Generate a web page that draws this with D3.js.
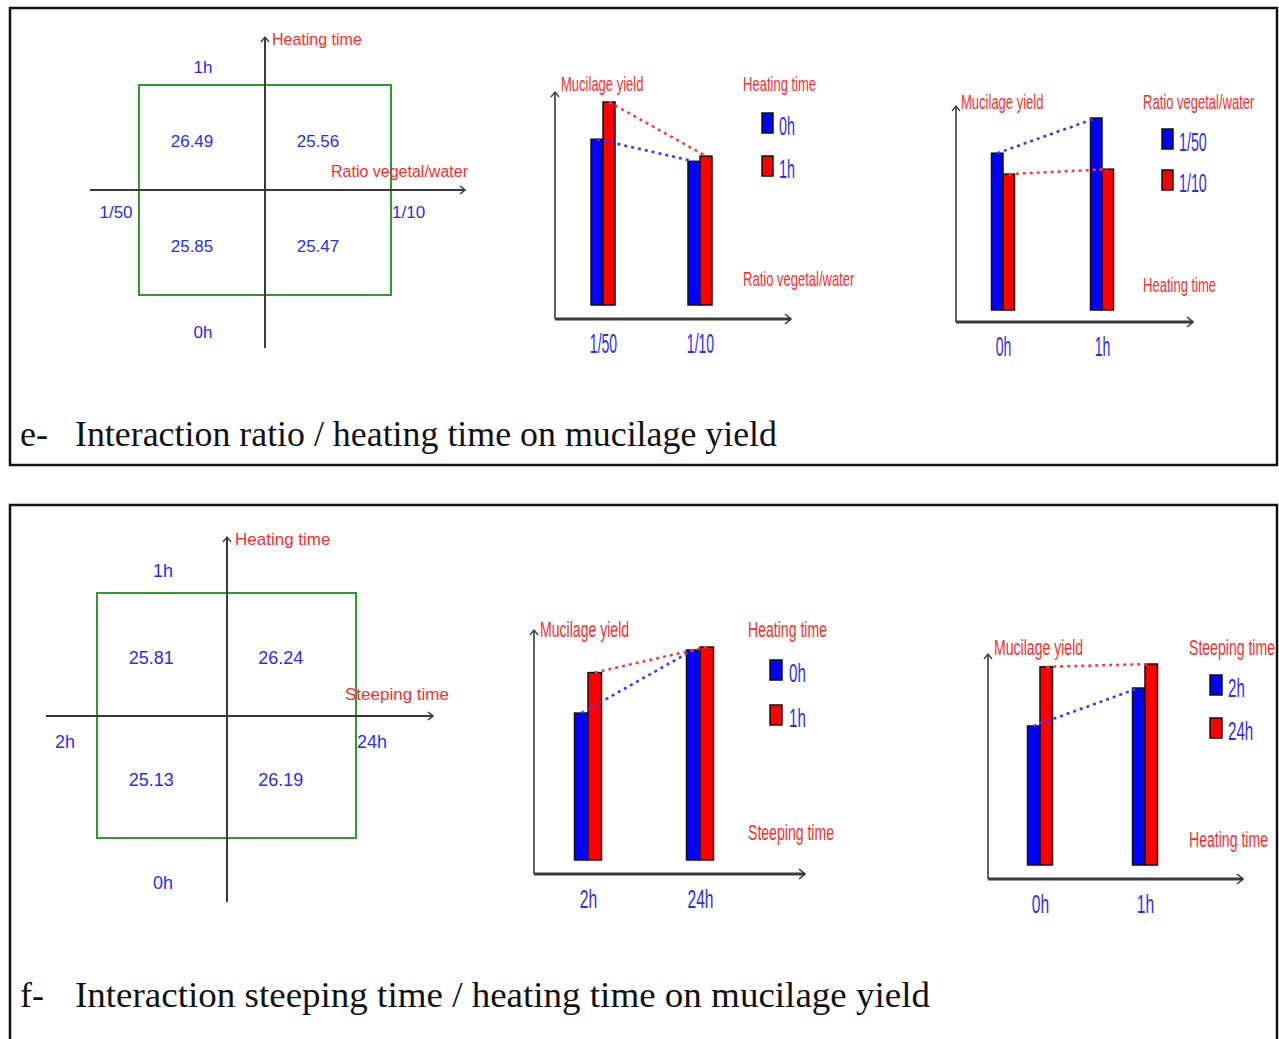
<!DOCTYPE html>
<html>
<head>
<meta charset="utf-8">
<script src="https://cdn.jsdelivr.net/npm/d3@7"></script>
<style>
  body { margin: 0; background: #fff; }
</style>
</head>
<body>
<svg id="fig" width="1279" height="1039"></svg>
<script>
// ---- factor levels ----
const ratioLevels = ["1/50", "1/10"];
const heatingLevels = ["0h", "1h"];
const steepingLevels = ["2h", "24h"];

// ---- mean mucilage yield (%) ----
// panel e: one array per heating time, values across ratio levels
const yieldE_heat0h = [25.85, 25.47];
const yieldE_heat1h = [26.49, 25.56];
// panel f: one array per heating time, values across steeping levels
const yieldF_heat0h = [25.13, 26.19];
const yieldF_heat1h = [25.81, 26.24];

// ---- captions ----
const captionE = ["e-", "Interaction ratio / heating time on mucilage yield"];
const captionF = ["f-", "Interaction steeping time / heating time on mucilage yield"];

const BAR_BLUE = "#0000ff", BAR_RED = "#ff0000";
const TXT_BLUE = "#2c2cf0", TXT_RED = "#ff2a2a";
const AXIS = "#3a3a3a", GREEN = "#2f9a2f";
const SANS = "'Liberation Sans', Arial, sans-serif";
const SERIF = "'Liberation Serif', 'Times New Roman', serif";

const svg = d3.select("#fig");

// text drawn at (x, y), optionally narrowed horizontally by factor k
function label(g, x, y, str, o) {
  const t = g.append("text").text(str)
    .attr("font-family", o.family || SANS)
    .attr("font-size", o.size)
    .attr("fill", o.color)
    .attr("text-anchor", o.anchor || "start");
  if (o.k) t.attr("transform", `translate(${x},${y}) scale(${o.k},1)`);
  else t.attr("x", x).attr("y", y);
  return t;
}

function upArrow(g, x, y, s) {
  g.append("path").attr("d", `M${x - s},${y + s + 1}L${x},${y}L${x + s},${y + s + 1}`)
    .attr("fill", "none").attr("stroke", AXIS).attr("stroke-width", 1.3);
}
function rightArrow(g, x, y, s) {
  g.append("path").attr("d", `M${x - s - 1},${y - s}L${x},${y}L${x - s - 1},${y + s}`)
    .attr("fill", "none").attr("stroke", AXIS).attr("stroke-width", 1.6);
}

// ---- panel frames ----
svg.append("rect").attr("x", 10).attr("y", 8).attr("width", 1267).attr("height", 457)
  .attr("fill", "none").attr("stroke", "#111").attr("stroke-width", 2.5);
svg.append("rect").attr("x", 10).attr("y", 505).attr("width", 1267).attr("height", 560)
  .attr("fill", "none").attr("stroke", "#111").attr("stroke-width", 2.5);

// ---- quadrant diagram: cell means on a 2x2 design ----
function quadrant(o) {
  const g = svg.append("g");
  const x = d3.scaleBand().domain(o.xLevels).range([o.sq[0], o.sq[1]]);
  const y = d3.scaleBand().domain(o.yLevels.slice().reverse()).range([o.sq[2], o.sq[3]]);

  g.append("rect")
    .attr("x", o.sq[0]).attr("y", o.sq[2])
    .attr("width", o.sq[1] - o.sq[0]).attr("height", o.sq[3] - o.sq[2])
    .attr("fill", "none").attr("stroke", GREEN).attr("stroke-width", 2);

  g.append("line").attr("x1", o.vx).attr("x2", o.vx).attr("y1", o.vBot).attr("y2", o.vTop)
    .attr("stroke", AXIS).attr("stroke-width", 2);
  upArrow(g, o.vx, o.vTop, 4);
  g.append("line").attr("x1", o.hLeft).attr("x2", o.hRight).attr("y1", o.hy).attr("y2", o.hy)
    .attr("stroke", AXIS).attr("stroke-width", 2);
  rightArrow(g, o.hRight, o.hy, 4);

  label(g, o.yTitleX, o.yTitleY, o.yTitle, { size: o.fsRed, color: TXT_RED });
  label(g, o.xTitleX, o.xTitleY, o.xTitle, { size: o.fsRed, color: TXT_RED });

  o.xLevels.forEach((lv, i) =>
    label(g, o.xLvl[i][0], o.xLvlY, lv, { size: o.fsBlue, color: TXT_BLUE, anchor: o.xLvl[i][1] }));
  o.yLevels.forEach((lv, i) =>
    label(g, o.yLvlX, o.yLvlY[i], lv, { size: o.fsBlue, color: TXT_BLUE, anchor: "middle" }));

  o.rows.forEach((row, ri) => row.forEach((v, ci) => {
    label(g,
      x(o.xLevels[ci]) + x.bandwidth() / 2 + o.cellDx,
      y(o.yLevels[ri]) + y.bandwidth() / 2 + o.cellDy,
      v.toFixed(2), { size: o.fsBlue, color: TXT_BLUE, anchor: "middle" });
  }));
}

// ---- grouped interaction bar chart ----
function barPanel(o) {
  const g = svg.append("g");
  const x = d3.scalePoint().domain(o.groups).range(o.groupX);
  const peak = d3.max(o.series.flat());
  const y = d3.scaleLinear().domain([o.floor, peak]).range([o.base, o.top]);
  const colors = [BAR_BLUE, BAR_RED];
  const dotColors = ["#3a3aff", "#ff3c3c"];
  const bw = o.barW;
  const bx = (gi, si) => x(o.groups[gi]) + (si - 1) * bw;

  // category labels from a bottom axis
  const ax = g.append("g").attr("transform", `translate(0,${o.oy})`)
    .call(d3.axisBottom(x).tickSize(0));
  ax.select(".domain").remove();
  ax.selectAll("text")
    .attr("x", 0).attr("y", 0).attr("dy", 0)
    .attr("transform", `translate(0,${o.tickY - o.oy}) scale(${o.fs.kTick},1)`)
    .attr("font-family", SANS).attr("font-size", o.fs.tick).attr("fill", TXT_BLUE);

  // axes lines with open arrowheads
  g.append("line").attr("x1", o.ox).attr("x2", o.ox).attr("y1", o.oy).attr("y2", o.yTip)
    .attr("stroke", AXIS).attr("stroke-width", 1.6);
  upArrow(g, o.ox, o.yTip, 4);
  g.append("line").attr("x1", o.ox).attr("x2", o.xTip).attr("y1", o.oy).attr("y2", o.oy)
    .attr("stroke", AXIS).attr("stroke-width", 3);
  rightArrow(g, o.xTip, o.oy, 5);

  // bars
  o.series.forEach((vals, si) => {
    g.selectAll(null).data(vals).join("rect")
      .attr("x", (d, gi) => bx(gi, si))
      .attr("y", d => y(d))
      .attr("width", bw)
      .attr("height", d => y(o.floor) - y(d))
      .attr("fill", colors[si])
      .attr("stroke", "#111").attr("stroke-width", 1.5);
  });

  // dotted interaction lines joining the same level across groups
  o.series.forEach((vals, si) => {
    const line = d3.line().x((d, gi) => bx(gi, si) + bw / 2).y(d => y(d));
    g.append("path").attr("d", line(vals))
      .attr("fill", "none").attr("stroke", dotColors[si])
      .attr("stroke-width", 2.6).attr("stroke-dasharray", "3,4");
  });

  // titles
  label(g, o.yTitleX, o.titleY, "Mucilage yield", { size: o.fs.title, color: TXT_RED, k: o.fs.kTitle });
  label(g, o.legX, o.titleY, o.legendTitle, { size: o.fs.title, color: TXT_RED, k: o.fs.kTitle });
  label(g, o.legX, o.xTitleY, o.xTitle, { size: o.fs.title, color: TXT_RED, k: o.fs.kTitle });

  // legend
  o.seriesNames.forEach((nm, si) => {
    g.append("rect").attr("x", o.legRectX).attr("y", o.legRectY[si])
      .attr("width", o.legRectW).attr("height", o.legRectH)
      .attr("fill", colors[si]).attr("stroke", "#111").attr("stroke-width", 1.5);
    label(g, o.legTextX, o.legRectY[si] + o.legRectH + 2, nm,
      { size: o.fs.leg, color: TXT_BLUE, k: o.fs.kLeg });
  });
}

// ---- panel e ----
quadrant({
  xLevels: ratioLevels, yLevels: heatingLevels,
  rows: [yieldE_heat0h, yieldE_heat1h],
  sq: [139, 391, 85, 295], vx: 265, vTop: 37, vBot: 348, hy: 190, hLeft: 90, hRight: 465,
  yTitle: "Heating time", yTitleX: 272, yTitleY: 45,
  xTitle: "Ratio vegetal/water", xTitleX: 331, xTitleY: 177,
  xLvl: [[116, "middle"], [392, "start"]], xLvlY: 218,
  yLvlX: 203, yLvlY: [338, 73],
  cellDx: -10, cellDy: 9, fsRed: 16, fsBlue: 17
});

const fsE = { title: 21, kTitle: 0.62, leg: 26, kLeg: 0.55, tick: 27, kTick: 0.52 };
const fsF = { title: 22, kTitle: 0.64, leg: 26, kLeg: 0.58, tick: 26, kTick: 0.6 };

barPanel({
  groups: ratioLevels, series: [yieldE_heat0h, yieldE_heat1h], seriesNames: heatingLevels,
  legendTitle: "Heating time", xTitle: "Ratio vegetal/water", floor: 23,
  ox: 555, oy: 319, yTip: 92, xTip: 791, groupX: [603, 700], barW: 12, base: 305, top: 102,
  yTitleX: 561, titleY: 91, legX: 743, legRectX: 762, legRectY: [113, 156], legRectW: 11, legRectH: 20,
  legTextX: 779, xTitleY: 286, tickY: 353, fs: fsE
});

barPanel({
  groups: heatingLevels, series: d3.transpose([yieldE_heat0h, yieldE_heat1h]), seriesNames: ratioLevels,
  legendTitle: "Ratio vegetal/water", xTitle: "Heating time", floor: 23,
  ox: 956, oy: 322, yTip: 106, xTip: 1193, groupX: [1003, 1102], barW: 11.5, base: 310, top: 118,
  yTitleX: 961, titleY: 109, legX: 1143, legRectX: 1162, legRectY: [129, 170], legRectW: 11, legRectH: 20,
  legTextX: 1179, xTitleY: 292, tickY: 356, fs: fsE
});

// ---- panel f ----
quadrant({
  xLevels: steepingLevels, yLevels: heatingLevels,
  rows: [yieldF_heat0h, yieldF_heat1h],
  sq: [97, 356, 593, 838], vx: 227, vTop: 537, vBot: 902, hy: 716, hLeft: 46, hRight: 433,
  yTitle: "Heating time", yTitleX: 235, yTitleY: 545,
  xTitle: "Steeping time", xTitleX: 345, xTitleY: 700,
  xLvl: [[65, "middle"], [357, "start"]], xLvlY: 748,
  yLvlX: 163, yLvlY: [889, 577],
  cellDx: -10.5, cellDy: 9.5, fsRed: 17, fsBlue: 18
});

barPanel({
  groups: steepingLevels, series: [yieldF_heat0h, yieldF_heat1h], seriesNames: heatingLevels,
  legendTitle: "Heating time", xTitle: "Steeping time", floor: 22.66,
  ox: 534, oy: 874, yTip: 630, xTip: 805, groupX: [588, 700], barW: 13.5, base: 860, top: 647,
  yTitleX: 540, titleY: 637, legX: 748, legRectX: 770, legRectY: [660, 705], legRectW: 12, legRectH: 20,
  legTextX: 789, xTitleY: 840, tickY: 908, fs: fsF
});

barPanel({
  groups: heatingLevels, series: d3.transpose([yieldF_heat0h, yieldF_heat1h]), seriesNames: steepingLevels,
  legendTitle: "Steeping time", xTitle: "Heating time", floor: 22.64,
  ox: 988, oy: 879, yTip: 654, xTip: 1243, groupX: [1040, 1145], barW: 12.5, base: 865, top: 664,
  yTitleX: 994, titleY: 655, legX: 1189, legRectX: 1210, legRectY: [675, 718], legRectW: 12, legRectH: 20,
  legTextX: 1228, xTitleY: 847, tickY: 913, fs: fsF
});

// ---- captions ----
function caption(c, y, width) {
  label(svg, 20, y, c[0], { size: 36, color: "#111", family: SERIF });
  svg.append("text").attr("x", 75).attr("y", y).text(c[1])
    .attr("font-family", SERIF).attr("font-size", 36).attr("fill", "#111")
    .attr("textLength", width).attr("lengthAdjust", "spacingAndGlyphs");
}
caption(captionE, 446, 702);
caption(captionF, 1007, 855);
</script>
</body>
</html>
